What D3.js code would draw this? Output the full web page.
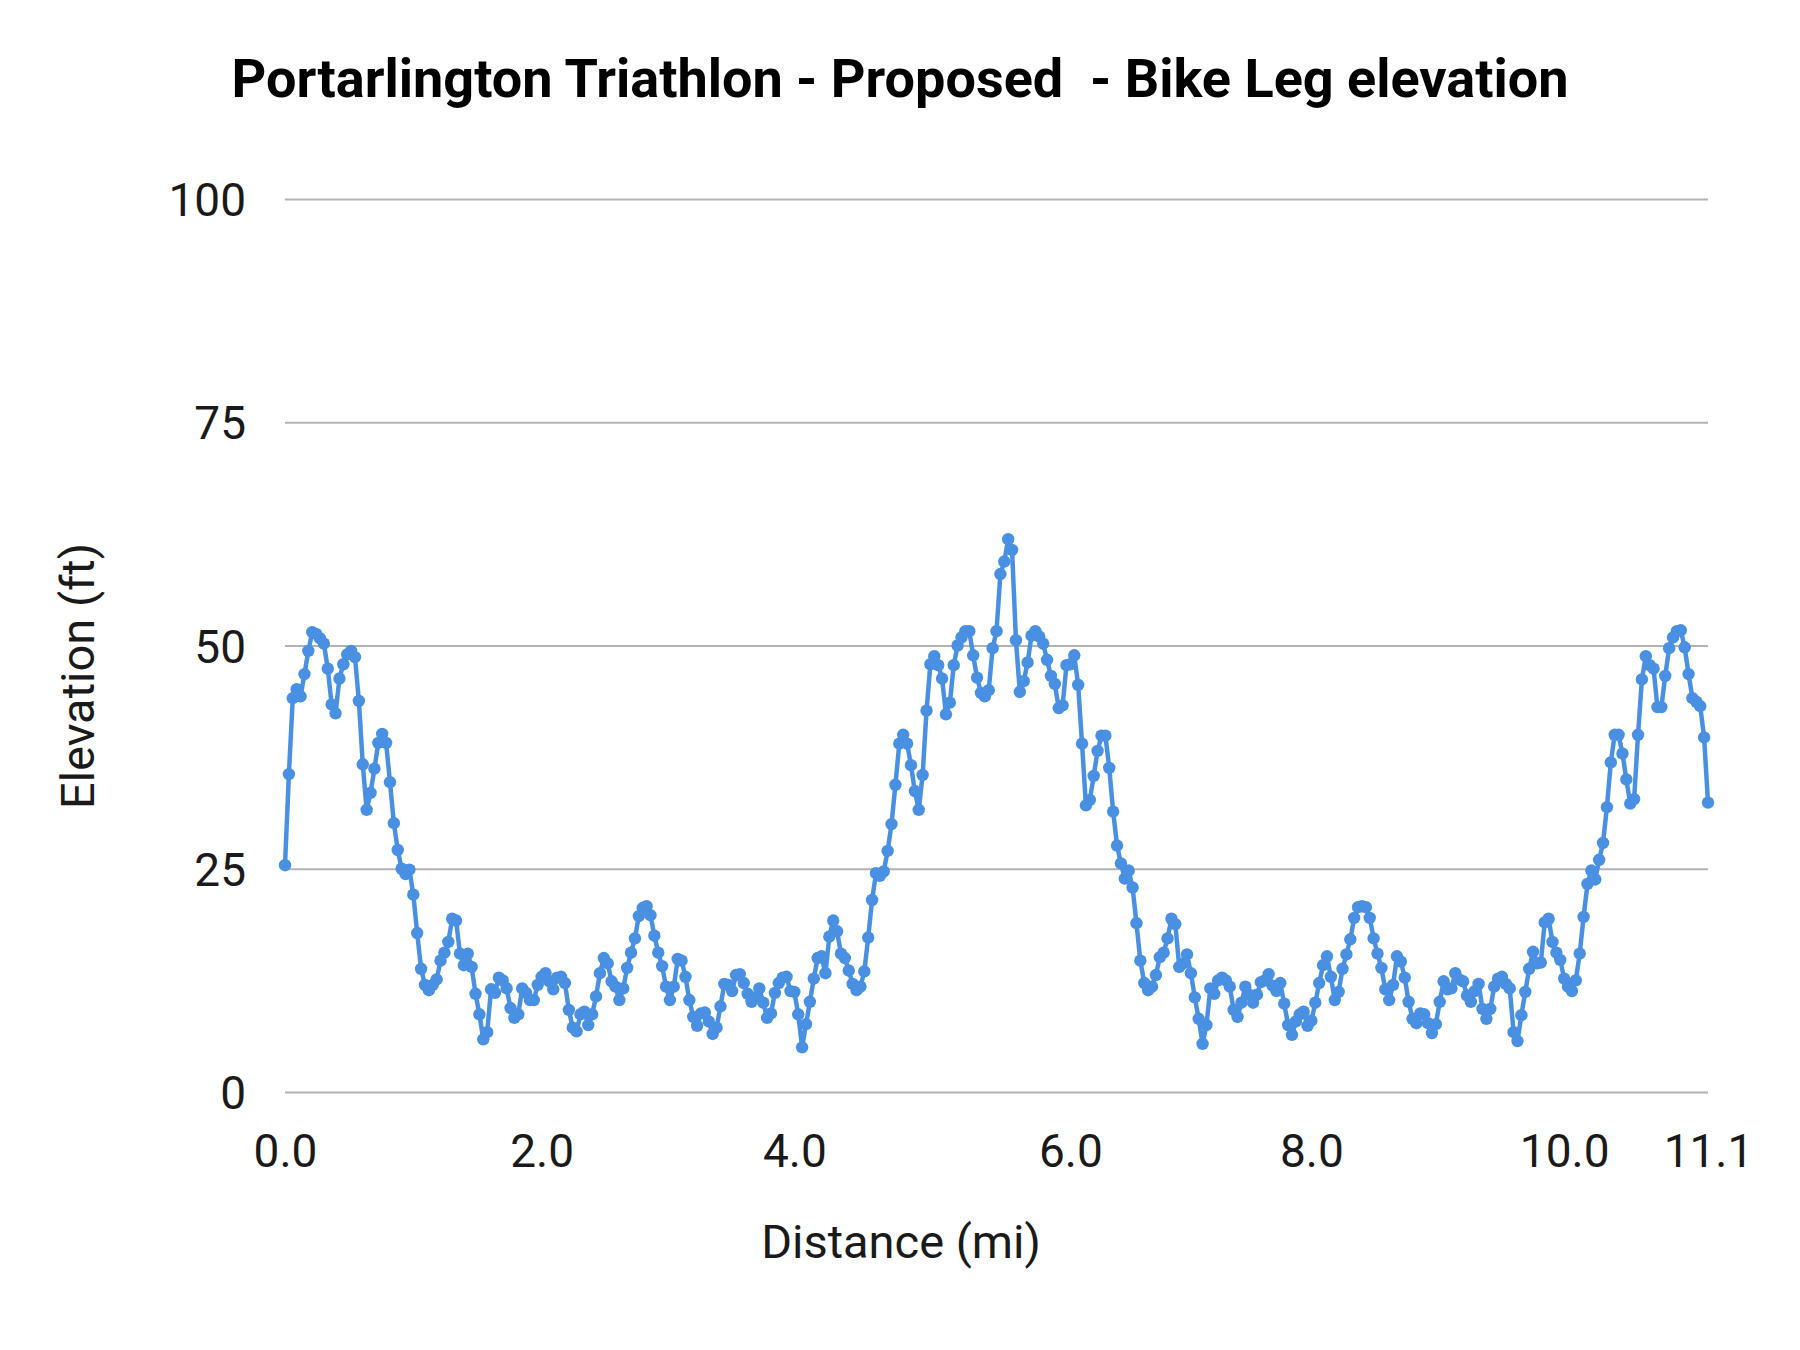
<!DOCTYPE html>
<html>
<head>
<meta charset="utf-8">
<script src="https://cdn.jsdelivr.net/npm/d3@7"></script>
<style>
  html, body { margin: 0; padding: 0; background: #ffffff; }
  svg { display: block; font-family: Roboto, "Noto Sans", sans-serif; }
</style>
</head>
<body>
<svg id="chart" width="1800" height="1350"></svg>
<script>
// ---- data ----
const chartTitle = "Portarlington Triathlon - Proposed  - Bike Leg elevation";
const xAxisTitle = "Distance (mi)";
const yAxisTitle = "Elevation (ft)";

// elevation (ft) for each sample point along the route, in order
const elevation = [
  25.4, 35.6, 44.1, 45.1, 44.3, 46.8, 49.4, 51.5, 51.3, 50.8, 50.2, 47.4, 43.4, 42.4, 46.3, 47.9, 49.0, 49.4, 48.7, 43.8,
  36.7, 31.6, 33.5, 36.2, 39.1, 40.1, 39.1, 34.7, 30.1, 27.1, 25.0, 24.4, 24.9, 22.1, 17.8, 13.8, 12.0, 11.4, 12.0, 12.6,
  14.7, 15.6, 16.8, 19.4, 19.2,
  15.5, 14.2, 15.5, 14.0, 11.0, 8.7, 5.9, 6.7, 11.5, 11.1, 12.8, 12.5, 11.6, 9.4, 8.3, 8.7, 11.6, 11.1, 10.3, 10.3,
  12.0, 12.9, 13.3, 12.4, 11.5, 12.8, 12.9, 12.2, 9.2, 7.2, 6.8, 8.7, 9.0, 7.5, 8.7, 10.7, 13.3, 15.0, 14.4, 12.4,
  11.8, 10.3, 11.6, 13.9, 15.6, 17.2, 19.7, 20.6, 20.8,
  19.8, 17.5, 15.6, 14.1, 11.8, 10.3, 11.8, 14.9, 14.7, 12.9, 10.3, 8.4, 7.4, 8.8, 8.9, 7.9, 6.5, 7.2, 9.6, 12.1,
  12.0, 11.3, 13.1, 13.2, 12.2, 11.0, 10.1, 10.6, 11.6, 10.0, 8.3, 8.8, 11.1, 12.2, 12.8, 12.9, 11.3, 11.2, 8.7, 5.0,
  7.6, 10.1, 12.7, 15.0, 15.2, 13.3, 17.4, 19.2, 18.0,
  15.5, 15.0, 13.6, 12.1, 11.4, 11.8, 13.5, 17.3, 21.5, 24.5, 24.2, 24.7, 27.0, 30.0, 34.4, 39.0, 40.0, 39.0, 36.6, 33.7,
  31.6, 35.5, 42.7, 47.9, 48.8, 47.8, 46.3, 42.3, 43.6, 47.8, 50.0, 50.9, 51.6, 51.6, 48.9, 46.4, 44.7, 44.3, 45.0, 49.7,
  51.6, 58.0, 59.4, 61.9, 60.7, 50.6, 44.8, 46.0, 48.1, 51.1, 51.6,
  51.0, 50.2, 48.4, 46.6, 45.7, 43.0, 43.3, 47.8, 47.9, 48.9, 45.6, 39.0, 32.1, 32.7, 35.4, 38.2, 39.9, 39.9, 36.3, 31.4,
  27.6, 25.6, 23.9, 24.8, 22.9, 18.9, 14.7, 12.2, 11.4, 11.8, 13.1, 15.1, 15.6, 17.2, 19.4, 18.8, 14.0, 14.4, 15.4, 13.3,
  10.6, 8.2, 5.4, 7.5, 11.6, 11.0, 12.5, 12.8, 12.5, 11.8, 9.2, 8.4,
  10.0, 11.8, 10.9, 10.0, 10.9, 12.3, 12.5, 13.2, 11.9, 11.3, 12.2, 9.9, 7.5, 6.4, 7.9, 8.7, 9.0, 7.4, 8.0, 10.0,
  12.2, 14.2, 15.2, 12.9, 10.3, 11.2, 13.8, 15.4, 17.1, 19.5, 20.7, 20.8, 20.7, 19.5, 17.2, 15.5, 13.9, 11.5, 10.3, 12.0,
  15.2, 14.6, 12.8, 10.1, 8.2, 7.7, 8.8, 8.7, 7.7, 6.6,
  7.6, 10.1, 12.4, 11.5, 11.6, 13.3, 12.6, 12.4, 10.8, 10.1, 11.3, 12.1, 9.3, 8.2, 9.3, 11.8, 12.7, 12.9, 12.1, 11.6,
  6.7, 5.7, 8.6, 11.2, 13.8, 15.7, 14.4, 14.5, 19.0, 19.4, 16.8, 15.6, 14.8, 12.7, 11.8, 11.3, 12.5, 15.5, 19.6, 23.3,
  24.8, 23.8, 26.0, 27.9, 31.9, 36.9, 40.0, 40.0, 37.9, 35.0, 32.3, 32.8, 40.0, 46.2, 48.8, 47.8, 47.4, 43.1, 43.1, 46.6,
  49.7, 50.9, 51.6, 51.7, 49.8, 46.8, 44.1, 43.7, 43.2, 39.7, 32.4
];

// category axis: which sample carries a distance label, and the label text
const xTickIndex  = [0, 66, 131, 202, 264, 329, 366];
const xTickLabels = ["0.0", "2.0", "4.0", "6.0", "8.0", "10.0", "11.1"];

const yTicks = [0, 25, 50, 75, 100];

// ---- layout ----
const W = 1800, H = 1350;
const plot = { left: 285, right: 1708, top: 199, bottom: 1092 };
const lineColor = "#4a90e2";
const gridColor = "#b2b2b2";
const textColor = "#1a1a1a";

const svg = d3.select("#chart");
svg.append("rect").attr("width", W).attr("height", H).attr("fill", "#ffffff");

const idx = d3.range(elevation.length);
const x = d3.scalePoint().domain(idx).range([plot.left, plot.right]);
const y = d3.scaleLinear().domain([0, 100]).range([plot.bottom, plot.top]);

// gridlines + y labels via axis
const yAxis = d3.axisLeft(y).tickValues(yTicks).tickSize(-(plot.right - plot.left)).tickPadding(39).tickFormat(d3.format("d"));
const gy = svg.append("g").attr("transform", `translate(${plot.left},0)`).call(yAxis);
gy.select(".domain").remove();
gy.selectAll(".tick line").attr("stroke", gridColor).attr("stroke-width", 2);
gy.selectAll(".tick text")
  .attr("fill", textColor)
  .style("font-size", "46px")
  .style("font-family", "Roboto, sans-serif")
  .attr("dy", "0.36em");

// x axis labels via axis
const xAxis = d3.axisBottom(x).tickValues(xTickIndex).tickSize(0).tickPadding(0)
  .tickFormat((d) => xTickLabels[xTickIndex.indexOf(d)]);
const gx = svg.append("g").attr("transform", `translate(0,${plot.bottom})`).call(xAxis);
gx.select(".domain").remove();
gx.selectAll(".tick text")
  .attr("fill", textColor)
  .attr("dy", null)
  .attr("y", 75)
  .style("font-size", "46px")
  .style("font-family", "Roboto, sans-serif");

// line
const line = d3.line().x((d, i) => x(i)).y((d) => y(d));
svg.append("path")
  .datum(elevation)
  .attr("d", line)
  .attr("fill", "none")
  .attr("stroke", lineColor)
  .attr("stroke-width", 4.5)
  .attr("stroke-linejoin", "round");

// points
svg.append("g").selectAll("circle")
  .data(elevation)
  .join("circle")
  .attr("cx", (d, i) => x(i))
  .attr("cy", (d) => y(d))
  .attr("r", 6.2)
  .attr("fill", lineColor);

// title
svg.append("text")
  .attr("x", 900).attr("y", 97)
  .attr("text-anchor", "middle")
  .style("white-space", "pre")
  .style("font-size", "54px")
  .style("font-weight", "700")
  .attr("fill", "#000")
  .text(chartTitle);

// axis titles
svg.append("text")
  .attr("x", 901).attr("y", 1258)
  .attr("text-anchor", "middle")
  .style("font-size", "47px")
  .attr("fill", textColor)
  .text(xAxisTitle);

svg.append("text")
  .attr("transform", "translate(94,676) rotate(-90)")
  .attr("text-anchor", "middle")
  .style("font-size", "47px")
  .attr("fill", textColor)
  .text(yAxisTitle);
</script>
</body>
</html>
